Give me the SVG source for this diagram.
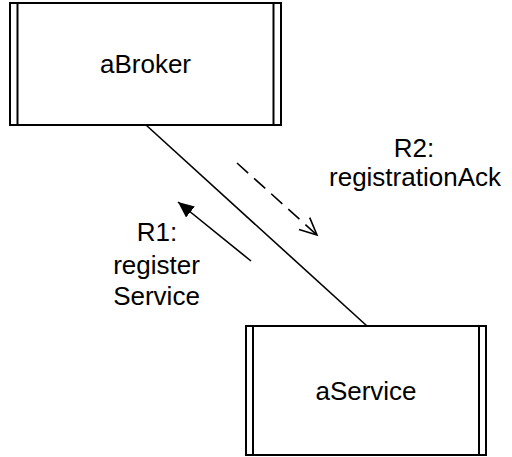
<svg xmlns="http://www.w3.org/2000/svg" width="512" height="457" viewBox="0 0 512 457">
  <style>
    .box { fill: #ffffff; stroke: #000000; stroke-width: 2; }
    .bar { stroke: #000000; stroke-width: 2; }
    .lbl { font-family: "Liberation Sans", Arial, sans-serif; font-size: 26px; fill: #000000; text-anchor: middle; }
    .link { stroke: #000000; stroke-width: 1.6; fill: none; }
    .dash { stroke-dasharray: 15 8; }
  </style>
  <defs>
    <marker id="filledHead" markerUnits="userSpaceOnUse" markerWidth="20" markerHeight="16" refX="16" refY="7" orient="auto" viewBox="0 0 20 16">
      <path d="M0,0 L16,7 L0,14 z" fill="#000000"/>
    </marker>
    <marker id="openHead" markerUnits="userSpaceOnUse" markerWidth="22" markerHeight="20" refX="18" refY="9" orient="auto" viewBox="0 0 22 20">
      <path d="M1,1 L18,9 L1,17" fill="none" stroke="#000000" stroke-width="1.6"/>
    </marker>
  </defs>

  <g id="connectors">
    <line class="link" x1="146" y1="125" x2="367" y2="326"/>
    <line class="link" x1="251" y1="261" x2="178" y2="202" marker-end="url(#filledHead)"/>
    <line class="link dash" x1="237" y1="163" x2="317" y2="235" marker-end="url(#openHead)"/>
  </g>

  <g id="aBroker">
    <rect class="box" x="10" y="3" width="271" height="122"/>
    <line class="bar" x1="17.5" y1="3" x2="17.5" y2="125"/>
    <line class="bar" x1="273.5" y1="3" x2="273.5" y2="125"/>
    <text class="lbl" x="145.5" y="73">aBroker</text>
  </g>

  <g id="aService">
    <rect class="box" x="246" y="326" width="240" height="129"/>
    <line class="bar" x1="253" y1="326" x2="253" y2="455"/>
    <line class="bar" x1="479" y1="326" x2="479" y2="455"/>
    <text class="lbl" x="366" y="400">aService</text>
  </g>

  <g id="label-R2">
    <text class="lbl" x="414" y="157">R2:</text>
    <text class="lbl" x="415" y="186">registrationAck</text>
  </g>

  <g id="label-R1">
    <text class="lbl" x="157" y="241">R1:</text>
    <text class="lbl" x="156.5" y="274">register</text>
    <text class="lbl" x="156.5" y="305">Service</text>
  </g>
</svg>
